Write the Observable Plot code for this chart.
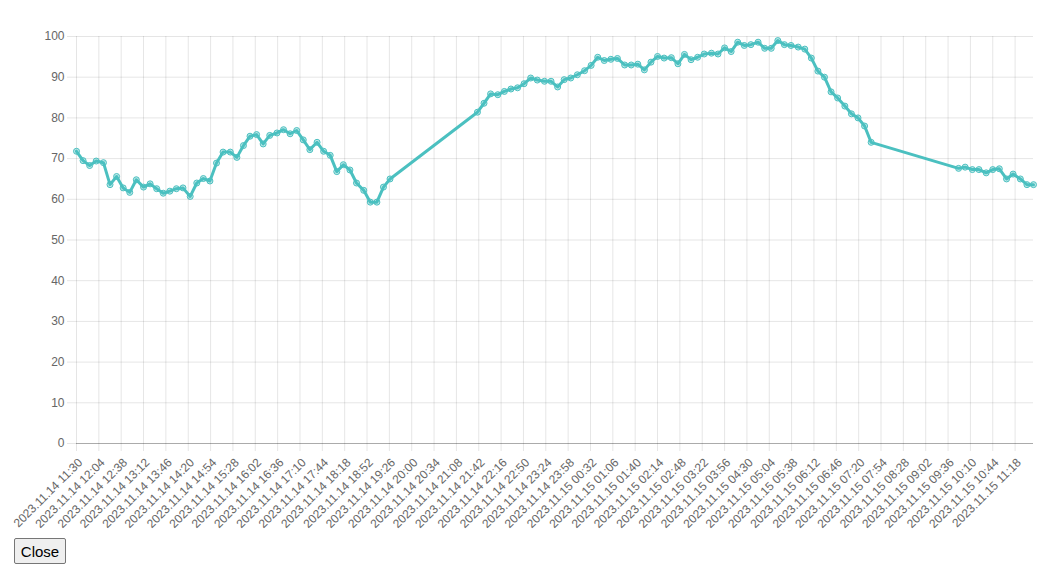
<!DOCTYPE html>
<html>
<head>
<meta charset="utf-8">
<script src="https://cdn.jsdelivr.net/npm/d3@7"></script>
<script src="https://cdn.jsdelivr.net/npm/@observablehq/plot@0.6"></script>
<style>
  html, body { margin: 0; padding: 0; background: #fff; }
  #chart { position: absolute; left: 0; top: 0; }
  #close { position: absolute; left: 14px; top: 538px; width: 52px; height: 26px;
    font: 15px Arial, "Liberation Sans", sans-serif; padding: 0; color: #000;
    background: #efefef; border: 1px solid #767676; border-radius: 2px; }
</style>
</head>
<body>
<div id="chart"></div>
<button id="close">Close</button>
<script>
const times = [
  "2023-11-14 11:30","2023-11-14 11:40","2023-11-14 11:50","2023-11-14 12:00","2023-11-14 12:11","2023-11-14 12:21","2023-11-14 12:31","2023-11-14 12:41",
  "2023-11-14 12:51","2023-11-14 13:01","2023-11-14 13:12","2023-11-14 13:22","2023-11-14 13:32","2023-11-14 13:42","2023-11-14 13:52","2023-11-14 14:02",
  "2023-11-14 14:12","2023-11-14 14:23","2023-11-14 14:33","2023-11-14 14:43","2023-11-14 14:53","2023-11-14 15:03","2023-11-14 15:13","2023-11-14 15:24",
  "2023-11-14 15:34","2023-11-14 15:44","2023-11-14 15:54","2023-11-14 16:04","2023-11-14 16:14","2023-11-14 16:24","2023-11-14 16:35","2023-11-14 16:45",
  "2023-11-14 16:55","2023-11-14 17:05","2023-11-14 17:15","2023-11-14 17:25","2023-11-14 17:36","2023-11-14 17:46","2023-11-14 17:56","2023-11-14 18:06",
  "2023-11-14 18:16","2023-11-14 18:26","2023-11-14 18:36","2023-11-14 18:47","2023-11-14 18:57","2023-11-14 19:07","2023-11-14 19:17","2023-11-14 19:27",
  "2023-11-14 21:40","2023-11-14 21:50","2023-11-14 22:00","2023-11-14 22:11","2023-11-14 22:21","2023-11-14 22:31","2023-11-14 22:41","2023-11-14 22:51",
  "2023-11-14 23:01","2023-11-14 23:11","2023-11-14 23:22","2023-11-14 23:32","2023-11-14 23:42","2023-11-14 23:52","2023-11-15 00:02","2023-11-15 00:12",
  "2023-11-15 00:23","2023-11-15 00:33","2023-11-15 00:43","2023-11-15 00:53","2023-11-15 01:03","2023-11-15 01:13","2023-11-15 01:24","2023-11-15 01:34",
  "2023-11-15 01:44","2023-11-15 01:54","2023-11-15 02:04","2023-11-15 02:14","2023-11-15 02:24","2023-11-15 02:35","2023-11-15 02:45","2023-11-15 02:55",
  "2023-11-15 03:05","2023-11-15 03:15","2023-11-15 03:25","2023-11-15 03:36","2023-11-15 03:46","2023-11-15 03:56","2023-11-15 04:06","2023-11-15 04:16",
  "2023-11-15 04:26","2023-11-15 04:36","2023-11-15 04:47","2023-11-15 04:57","2023-11-15 05:07","2023-11-15 05:17","2023-11-15 05:27","2023-11-15 05:37",
  "2023-11-15 05:48","2023-11-15 05:58","2023-11-15 06:08","2023-11-15 06:18","2023-11-15 06:28","2023-11-15 06:38","2023-11-15 06:48","2023-11-15 06:59",
  "2023-11-15 07:09","2023-11-15 07:19","2023-11-15 07:29","2023-11-15 07:39",
  "2023-11-15 09:52","2023-11-15 10:02","2023-11-15 10:13","2023-11-15 10:23","2023-11-15 10:34","2023-11-15 10:44","2023-11-15 10:54","2023-11-15 11:05",
  "2023-11-15 11:15","2023-11-15 11:26","2023-11-15 11:36","2023-11-15 11:46"
];
const values = [
  71.8, 69.5, 68.3, 69.4, 69.0, 63.6, 65.6, 62.8, 61.7, 64.8,
  63.0, 63.8, 62.6, 61.5, 62.0, 62.6, 62.8, 60.7, 64.0, 65.1,
  64.5, 68.9, 71.6, 71.6, 70.3, 73.2, 75.5, 75.9, 73.6, 75.7,
  76.3, 77.1, 76.1, 76.9, 74.6, 72.2, 74.0, 71.8, 70.8, 66.8,
  68.5, 67.2, 64.0, 62.2, 59.3, 59.3, 63.0, 65.0,
  81.4, 83.6, 85.9, 85.7, 86.5, 87.1, 87.4, 88.4, 89.8, 89.3,
  89.0, 89.0, 87.6, 89.4, 89.8, 90.6, 91.6, 92.9, 94.9, 94.1,
  94.4, 94.6, 93.0, 93.0, 93.2, 91.8, 93.7, 95.1, 94.7, 94.8,
  93.3, 95.6, 94.3, 94.9, 95.7, 95.9, 95.7, 97.2, 96.3, 98.6,
  97.8, 98.0, 98.6, 97.1, 97.1, 99.0, 98.0, 97.8, 97.4, 96.9,
  94.7, 91.5, 90.0, 86.4, 84.9, 82.9, 81.0, 80.0, 78.0, 74.0,
  67.6, 67.9, 67.3, 67.3, 66.5, 67.3, 67.5, 65.0, 66.2, 65.0,
  63.6, 63.6
];
const xTickLabels = [
  "2023.11.14 11:30","2023.11.14 12:04","2023.11.14 12:38","2023.11.14 13:12","2023.11.14 13:46","2023.11.14 14:20",
  "2023.11.14 14:54","2023.11.14 15:28","2023.11.14 16:02","2023.11.14 16:36","2023.11.14 17:10","2023.11.14 17:44",
  "2023.11.14 18:18","2023.11.14 18:52","2023.11.14 19:26","2023.11.14 20:00","2023.11.14 20:34","2023.11.14 21:08",
  "2023.11.14 21:42","2023.11.14 22:16","2023.11.14 22:50","2023.11.14 23:24","2023.11.14 23:58","2023.11.15 00:32",
  "2023.11.15 01:06","2023.11.15 01:40","2023.11.15 02:14","2023.11.15 02:48","2023.11.15 03:22","2023.11.15 03:56",
  "2023.11.15 04:30","2023.11.15 05:04","2023.11.15 05:38","2023.11.15 06:12","2023.11.15 06:46","2023.11.15 07:20",
  "2023.11.15 07:54","2023.11.15 08:28","2023.11.15 09:02","2023.11.15 09:36","2023.11.15 10:10","2023.11.15 10:44",
  "2023.11.15 11:18"
];
const yTicks = [0, 10, 20, 30, 40, 50, 60, 70, 80, 90, 100];

const parseT = d3.utcParse("%Y-%m-%d %H:%M");
const parseTick = d3.utcParse("%Y.%m.%d %H:%M");
const fmtTick = d3.utcFormat("%Y.%m.%d %H:%M");
const data = times.map((t, i) => ({t: parseT(t), v: values[i]}));
const xTicks = xTickLabels.map(parseTick);

const color = "rgb(75,192,192)";
const chart = Plot.plot({
  width: 1046,
  height: 540,
  marginLeft: 76,
  marginRight: 13,
  marginTop: 36,
  marginBottom: 97,
  style: {fontFamily: "Arial, 'Liberation Sans', Helvetica, sans-serif", fontSize: "12px", background: "#fff"},
  x: {type: "utc", domain: [data[0].t, data[data.length - 1].t]},
  y: {domain: [0, 100]},
  marks: [
    Plot.gridX(xTicks, {stroke: "#000", strokeOpacity: 0.1, insetBottom: -8}),
    Plot.gridY(yTicks, {stroke: "#000", strokeOpacity: 0.1, insetLeft: -9}),
    Plot.axisX({ticks: xTicks, tickFormat: fmtTick, tickRotate: -45, tickSize: 0, tickPadding: 17, dx: 4,
      fill: "#666", fontSize: 12, label: null}),
    Plot.axisY({ticks: yTicks, tickSize: 0, tickPadding: 12, fill: "#666", fontSize: 12, label: null}),
    Plot.ruleY([0], {stroke: "#000", strokeOpacity: 0.25}),
    Plot.line(data, {x: "t", y: "v", stroke: color, strokeWidth: 3}),
    Plot.dot(data, {x: "t", y: "v", r: 3, fill: "rgba(75,192,192,0.35)", stroke: color, strokeWidth: 1})
  ]
});
document.getElementById("chart").append(chart);
</script>
</body>
</html>
